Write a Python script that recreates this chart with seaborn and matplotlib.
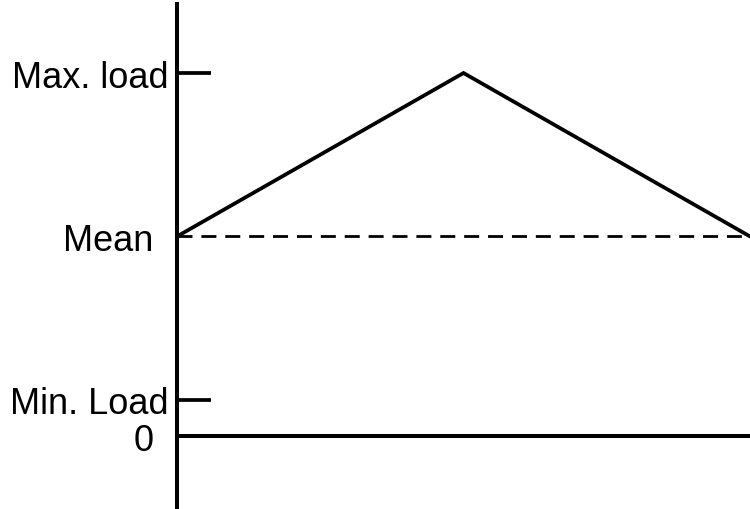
import pandas as pd
import matplotlib.pyplot as plt
import seaborn as sns

# ------------------------
# Data (schematic load cycle)
# ------------------------
time_pts = [0.0, 0.5, 1.0]
load_pts = [5.5, 10.0, 5.5]

level_names = ["0", "Min. Load", "Mean", "Max. load"]
level_values = [0.0, 1.0, 5.5, 10.0]

sns.set_style("white")
plt.rcParams["font.family"] = ["Liberation Sans", "DejaVu Sans"]

fig = plt.figure(figsize=(7.5, 5.1), dpi=100)
ax = fig.add_axes([177 / 750, 2 / 510, 1 - 177 / 750, 503 / 510])

df = pd.DataFrame({"t": time_pts, "load": load_pts})
sns.lineplot(data=df, x="t", y="load", ax=ax, color="black", lw=2.7,
             solid_joinstyle="miter", clip_on=False)

# zero line and mean line
ax.hlines(level_values[0], 0, 1, color="black", lw=2.9, clip_on=False)
ax.hlines(level_values[2], 0, 1, color="black", lw=2.0, linestyles=(0, (5.4, 3.2)),
          clip_on=False)

# short marks for min / max
for v in (level_values[1], level_values[3]):
    ax.hlines(v, 0, 0.06, color="black", lw=2.7)

ax.set_xlim(0, 1)
ax.set_ylim(-1.95, 11.9)
ax.set_yticks(level_values)
ax.set_yticklabels(level_names, fontsize=26, color="black")
ax.set_xticks([])
ax.tick_params(axis="y", length=0)
pads = [17, 6, 17, 6]
for tick, p in zip(ax.yaxis.get_major_ticks(), pads):
    tick.set_pad(p)

for s in ["top", "right", "bottom"]:
    ax.spines[s].set_visible(False)
ax.spines["left"].set_linewidth(2.9)
ax.spines["left"].set_color("black")
ax.set_xlabel("")
ax.set_ylabel("")

plt.savefig("out.png", dpi=100)
